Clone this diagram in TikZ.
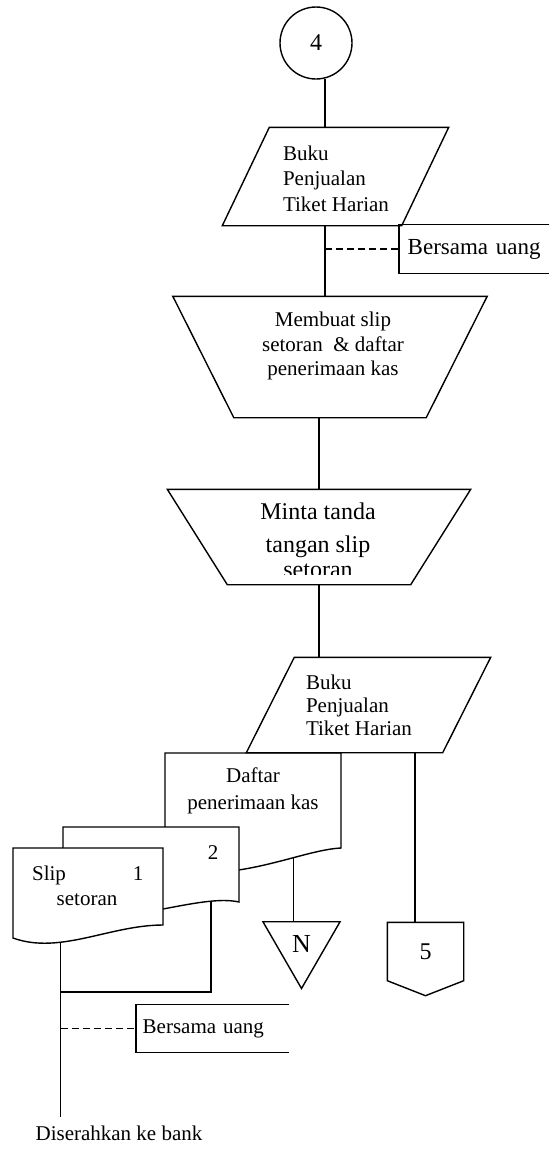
\documentclass[tikz,border=0pt]{standalone}
\usepackage{fontspec}
\setmainfont{Liberation Serif}
\usetikzlibrary{shapes.geometric}
\tikzset{
    %Define standard font
    every node/.style={font=\fontsize{21}{24}\selectfont},
    %Define style for connector circle
    conn/.style={
           circle,
           draw=black,
           minimum size=72pt,
           inner sep=0pt,
           font=\fontsize{24}{28}\selectfont},
    %Define style for the frame of a slanted box
    frame/.style 2 args={
           rectangle,
           minimum width=#1,
           minimum height=#2,
           inner sep=0pt},
    %Define style for storage labels
    store/.style={
           anchor=west,
           text width=#1,
           align=left,
           inner ysep=0pt},
    % Define document style
    doc/.style={
           draw=black,
           fill=white},
    txt/.style={
           inner sep=0pt},
    % Define attach line style
    attach/.style={
           dash pattern=on 7pt off 4pt,
           line width=1.2pt}
}

\begin{document}
\begin{tikzpicture}[x=1pt, y=-1pt, line width=1.4pt]
 \useasboundingbox (0,0) rectangle (559,1149);
 %nodes
    \node[conn] (c4) at (316,43) {4};
    \node[frame={225pt}{97pt}] (buku1) at (335.5,176.5) {};
    \draw ([xshift=47pt]buku1.north west) -- (buku1.north east) -- ([xshift=-47pt]buku1.south east) -- (buku1.south west) -- cycle;
    \node[txt, align=left, font=\fontsize{21}{25.5}\selectfont] (buku1txt) at (336,178.4) {Buku\\Penjualan\\Tiket Harian};
    \node[store=133pt, inner xsep=8pt, minimum height=48pt, font=\fontsize{23}{26}\selectfont] (uang1) at (399,249) {Bersama uang};
    \node[frame={313pt}{120pt}] (buat) at (330,357) {};
    \draw (buat.north west) -- (buat.north east) -- ([xshift=-61pt]buat.south east) -- ([xshift=61pt]buat.south west) -- cycle;
    \node[txt, align=center, font=\fontsize{21}{24.5}\selectfont] (buattxt) at (333,346) {Membuat slip\\setoran \ \& daftar\\penerimaan kas};
    \node[frame={302pt}{94pt}] (minta) at (319,537) {};
    \draw (minta.north west) -- (minta.north east) -- ([xshift=-60pt]minta.south east) -- ([xshift=60pt]minta.south west) -- cycle;
    \begin{scope}
      \clip (150,480) rectangle (480,574);
      \node[txt, align=center, font=\fontsize{24}{33}\selectfont] (mintatxt) at (318,540) {Minta tanda\\tangan slip\\[-8pt]setoran};
    \end{scope}
 %documents
    \draw[doc] (165,753) -- (341,753) -- (341,848) .. controls (300,850) and (235,885) .. (165,868) coordinate[pos=0.33] (dwave) -- cycle;
    \node[txt, align=center, font=\fontsize{21}{27}\selectfont] (daftartxt) at (253,791) {Daftar\\penerimaan kas};
    \draw[doc] (63,827) -- (239,827) -- (239,902) .. controls (200,893) and (120,928) .. (63,915) coordinate[pos=0.2] (dupwave) -- cycle;
    \node[anchor=base] (dupno) at (213,859) {2};
    \draw[doc] (13,848) -- (163,848) -- (163,925) .. controls (110,925) and (60,955) .. (13,938) coordinate[pos=0.67] (slipwave) -- cycle;
    \node[anchor=base] (sliptxt) at (49,880) {Slip};
    \node[anchor=base] (slipno) at (138,880) {1};
    \node[anchor=base] (sliptxt2) at (87,905) {setoran};
    \node[frame={243pt}{94pt}] (buku2) at (368.5,705) {};
    \draw ([xshift=48pt]buku2.north west) -- (buku2.north east) -- ([xshift=-48pt]buku2.south east) -- (buku2.south west) -- cycle;
    \node[txt, align=left, font=\fontsize{21}{23}\selectfont] (buku2txt) at (359,705) {Buku\\Penjualan\\Tiket Harian};
    \node[regular polygon, regular polygon sides=3, shape border rotate=180, draw, minimum size=89pt, inner sep=0pt, font=\fontsize{26}{30}\selectfont] (ntri) at (301.5,944) {N};
    \node[frame={75pt}{57pt}, font=\fontsize{24}{28}\selectfont] (off5) at (425.5,951.5) {5};
    \node[store=140pt, inner xsep=6pt, minimum height=47pt] (uang2) at (136,1028.5) {Bersama uang};
    \node[anchor=base, inner ysep=8pt] (bank) at (119,1140) {Diserahkan ke bank};
 %edges
    \draw (off5.north west) -- (off5.north east) -- (off5.south east) -- ([yshift=-15pt]off5.south) -- (off5.south west) -- cycle;
    \draw (uang1.north east) -- (uang1.north west) -- (uang1.south west) -- (uang1.south east);
    \draw (uang2.north east) -- (uang2.north west) -- (uang2.south west) -- (uang2.south east);
    \draw (c4.-76) -- (c4.-76 |- buku1.north);
    \draw (c4.-76 |- buku1.south) -- (c4.-76 |- buat.north);
    \draw[attach] (c4.-76 |- uang1.west) -- (uang1.west);
    \draw (minta.north |- buat.south) -- (minta.north);
    \draw (minta.south) -- (minta.south |- buku2.north);
    \draw ([xshift=-10.5pt]off5.north) -- ([xshift=-10.5pt]off5.north |- buku2.south);
    \draw (dwave) -- (dwave |- ntri.north);
    \coordinate (merge) at (slipwave |- 0,992);
    \draw (dupwave) |- (merge);
    \draw (slipwave) -- (slipwave |- bank.north);
    \draw[attach] (slipwave |- uang2.west) -- (uang2.west);
\end{tikzpicture}
\end{document}
